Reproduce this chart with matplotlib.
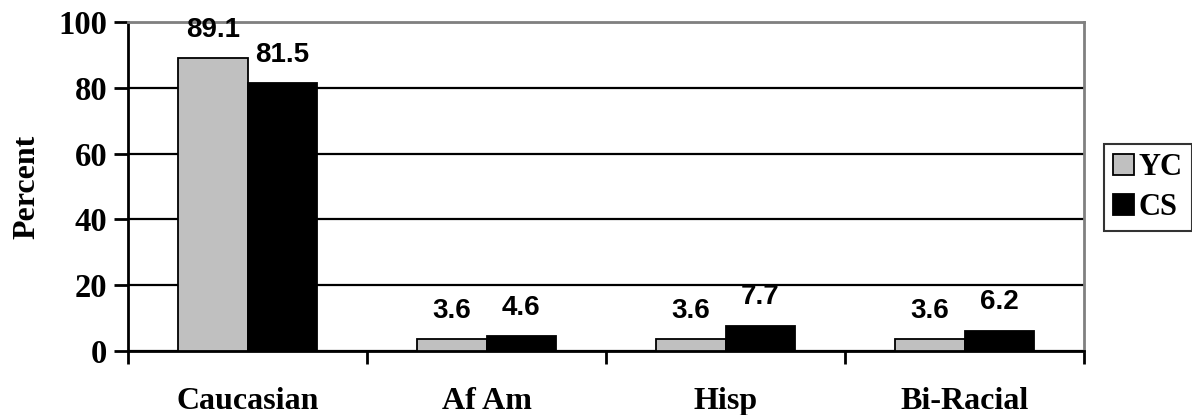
import numpy as np
import matplotlib
matplotlib.use("Agg")
import matplotlib.pyplot as plt
from matplotlib.patches import Patch

categories = ["Caucasian", "Af Am", "Hisp", "Bi-Racial"]
yc_values = [89.1, 3.6, 3.6, 3.6]
cs_values = [81.5, 4.6, 7.7, 6.2]
series_names = ["YC", "CS"]
y_ticks = [0, 20, 40, 60, 80, 100]

serif = ["Liberation Serif", "DejaVu Serif"]
sans = ["Liberation Sans", "DejaVu Sans"]

fig = plt.figure(figsize=(11.92, 4.15), dpi=100)
ax = fig.add_axes([0.1074, 0.154, 0.802, 0.793])

x = np.arange(len(categories))
width = 0.29
bars_yc = ax.bar(x - width / 2, yc_values, width, color="#C0C0C0",
                 edgecolor="black", linewidth=1.3, zorder=3)
bars_cs = ax.bar(x + width / 2, cs_values, width, color="black",
                 edgecolor="black", linewidth=1.3, zorder=3)

for bars, values in ((bars_yc, yc_values), (bars_cs, cs_values)):
    for bar, v in zip(bars, values):
        ax.annotate(f"{v:.1f}", (bar.get_x() + bar.get_width() / 2, v),
                    xytext=(0, 11), textcoords="offset points",
                    ha="center", va="bottom", fontsize=20, fontweight="bold",
                    family=sans, zorder=4, annotation_clip=False)

ax.set_xlim(-0.5, len(categories) - 0.5)
ax.set_ylim(0, 100)
ax.set_yticks(y_ticks)
ax.set_yticklabels([str(t) for t in y_ticks], family=serif,
                   fontweight="bold", fontsize=23.5)
ax.set_xticks(x)
ax.set_xticklabels(categories, family=serif, fontweight="bold", fontsize=23)
ax.set_xticks(np.arange(-0.5, len(categories), 1.0), minor=True)
ax.tick_params(axis="x", which="major", length=0, pad=26)
ax.tick_params(axis="x", which="minor", length=9, width=2, direction="out")
ax.tick_params(axis="y", length=10, width=2, direction="out", pad=5)

ax.yaxis.grid(True, color="black", linewidth=1.6, zorder=1)
ax.set_axisbelow(True)

for side in ("left", "bottom"):
    ax.spines[side].set_color("black")
    ax.spines[side].set_linewidth(2)
for side in ("top", "right"):
    ax.spines[side].set_color("#808080")
    ax.spines[side].set_linewidth(2)

ax.set_ylabel("Percent", family=serif, fontweight="bold", fontsize=23,
              labelpad=12)

handles = [Patch(facecolor="#C0C0C0", edgecolor="black", linewidth=1.3),
           Patch(facecolor="black", edgecolor="black", linewidth=1.3)]
leg = fig.legend(handles, series_names, loc="center left",
                 bbox_to_anchor=(0.926, 0.548), frameon=True, fancybox=False,
                 prop={"family": serif, "weight": "bold", "size": 22},
                 handlelength=0.7, handleheight=0.7, handletextpad=0.15,
                 borderpad=0.3, labelspacing=0.35, borderaxespad=0)
leg.get_frame().set_edgecolor("black")
leg.get_frame().set_linewidth(1.5)

fig.savefig("out.png", dpi=100)
